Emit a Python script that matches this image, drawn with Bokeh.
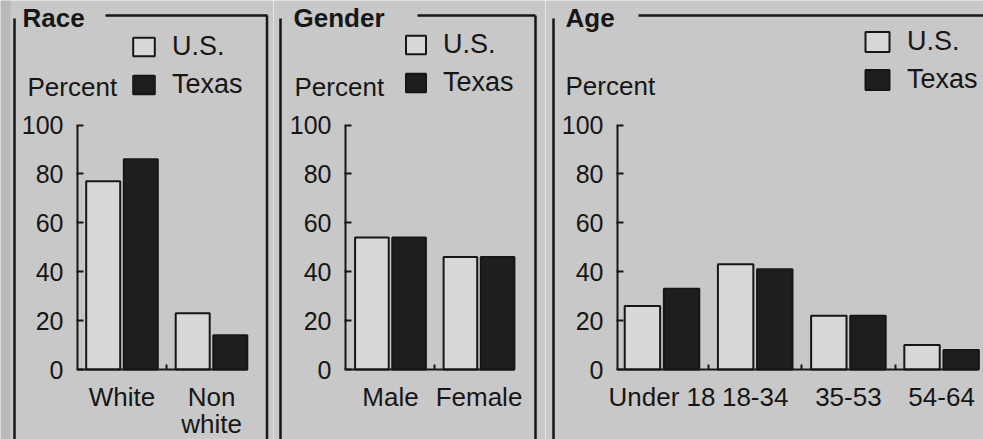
from bokeh.plotting import figure
from bokeh.models import LinearAxis, FixedTicker, Range1d, Legend, LegendItem, Label, BoxAnnotation
from bokeh.layouts import row
from bokeh.embed import file_html
from bokeh.resources import INLINE

# ---------------- data ----------------
panel_titles = ["Race", "Gender", "Age"]
series_names = ["U.S.", "Texas"]
y_label = "Percent"
y_ticks = [0, 20, 40, 60, 80, 100]

race_categories = ["White", "Non\nwhite"]
race_us = [77, 23]
race_texas = [86, 14]

gender_categories = ["Male", "Female"]
gender_us = [54, 46]
gender_texas = [54, 46]

age_categories = ["Under 18", "18-34", "35-53", "54-64"]
age_us = [26, 43, 22, 10]
age_texas = [33, 41, 22, 8]

# ---------------- style ----------------
H = 439
Y0_PX = 369.0      # canvas row of value 0
Y100_PX = 124.5    # canvas row of value 100
BG = "#c8c8c8"
US_FILL = "#d8d8d8"
TX_FILL = "#1e1e1e"
INK = "#161616"
FONT = "Liberation Sans"
OFF = 0.21
BAR_W = 0.38
LABEL_SHIFT = 10   # Label text renders this much lower than requested baseline
LEGEND_SHIFT = 4


def make_panel(title, cats, us, tx, width, c0, unit, axis_px, xend_px,
               title_x, line_x0, line_x1, left_b, right_b,
               leg_x, leg_top, glyph_w, glyph_h, pct_x, pct_base, shade=False):
    ppu = (Y0_PX - Y100_PX) / 100.0

    def px2x(px):
        return (px - c0) / unit

    def py2y(py):
        return (Y0_PX - py) / ppu

    p = figure(width=width, height=H,
               x_range=Range1d(px2x(0), px2x(width)),
               y_range=Range1d(py2y(H), py2y(0)),
               x_axis_type=None, y_axis_type=None,
               toolbar_location=None, output_backend="svg",
               min_border=0, background_fill_color=BG,
               border_fill_color=BG, outline_line_color=None)
    p.grid.visible = False

    if shade:
        p.add_layout(BoxAnnotation(left=px2x(0), right=px2x(10), fill_color="#b9b9b9",
                                   fill_alpha=1, line_color=None, level="underlay"))

    xs = list(range(len(cats)))
    r_us = p.vbar(x=[i - OFF for i in xs], top=us, width=BAR_W, bottom=0,
                  fill_color=US_FILL, line_color=INK, line_width=2)
    r_tx = p.vbar(x=[i + OFF for i in xs], top=tx, width=BAR_W, bottom=0,
                  fill_color=TX_FILL, line_color=INK, line_width=2)

    # axes
    yaxis = LinearAxis(fixed_location=px2x(axis_px), bounds=(0, 100),
                       ticker=FixedTicker(ticks=y_ticks, minor_ticks=[]))
    yaxis.axis_line_width = 2
    yaxis.axis_line_color = INK
    yaxis.major_tick_line_width = 2
    yaxis.major_tick_line_color = INK
    yaxis.major_tick_in = 6
    yaxis.major_tick_out = 1
    yaxis.minor_tick_line_color = None
    yaxis.major_label_standoff = 13
    yaxis.major_label_text_font = FONT
    yaxis.major_label_text_font_size = "25px"
    yaxis.major_label_text_color = INK
    p.add_layout(yaxis, "left")

    xaxis = LinearAxis(fixed_location=0, bounds=(px2x(axis_px), px2x(xend_px)),
                       ticker=FixedTicker(ticks=xs, minor_ticks=[i + 0.5 for i in xs[:-1]]),
                       major_label_overrides={i: c for i, c in zip(xs, cats)})
    xaxis.axis_line_width = 2
    xaxis.axis_line_color = INK
    xaxis.major_tick_line_color = None
    xaxis.minor_tick_line_color = INK
    xaxis.minor_tick_line_width = 2
    xaxis.minor_tick_in = 5
    xaxis.minor_tick_out = 0
    xaxis.major_label_standoff = 6
    xaxis.major_label_text_font = FONT
    xaxis.major_label_text_font_size = "26px"
    xaxis.major_label_text_line_height = 0.93
    xaxis.major_label_text_color = INK
    p.add_layout(xaxis, "below")

    # panel frame lines
    ytop = py2y(15)
    ybot = py2y(H)
    p.segment(x0=[px2x(line_x0)], y0=[ytop], x1=[px2x(line_x1)], y1=[ytop],
              line_color=INK, line_width=2.5)
    p.segment(x0=[px2x(left_b)], y0=[py2y(18)], x1=[px2x(left_b)], y1=[ybot],
              line_color=INK, line_width=2.5)
    if right_b is not None:
        p.segment(x0=[px2x(right_b)], y0=[ytop], x1=[px2x(right_b)], y1=[ybot],
                  line_color=INK, line_width=2.5)

    # title and y label
    p.add_layout(Label(x=px2x(title_x), y=py2y(27 - LABEL_SHIFT), text=title,
                       text_font=FONT, text_font_size="26px", text_font_style="bold",
                       text_color=INK, text_baseline="alphabetic", text_align="left"))
    p.add_layout(Label(x=px2x(pct_x), y=py2y(pct_base - LABEL_SHIFT), text=y_label,
                       text_font=FONT, text_font_size="26px",
                       text_color=INK, text_baseline="alphabetic", text_align="left"))

    # legend
    item_h = 36
    spacing = 2
    leg_h = 2 * item_h + spacing
    legend = Legend(items=[LegendItem(label=series_names[0], renderers=[r_us]),
                           LegendItem(label=series_names[1], renderers=[r_tx])],
                    location=(leg_x, H - (leg_top - LEGEND_SHIFT + leg_h)),
                    orientation="vertical", glyph_width=glyph_w, glyph_height=glyph_h,
                    label_height=item_h,
                    label_text_font=FONT, label_text_font_size="27px",
                    label_text_color=INK, label_standoff=15, spacing=spacing,
                    padding=0, margin=0, background_fill_alpha=0,
                    border_line_color=None)
    p.add_layout(legend)
    return p


p1 = make_panel(panel_titles[0], race_categories, race_us, race_texas,
                273, 121.5, 89.5, 77, 246.8,
                22, 105, 267, 14, 266.5,
                130, 32, 27, 23, 27, 96.5, shade=True)
p2 = make_panel(panel_titles[1], gender_categories, gender_us, gender_texas,
                272, 117, 88.5, 72, 240.9,
                20, 144, 262, 7, 262,
                130, 30, 25, 23, 21, 96.5)
p3 = make_panel(panel_titles[2], age_categories, age_us, age_texas,
                438, 116.5, 93.2, 72, 432,
                20, 93, 438, 8, None,
                317, 27, 30, 25, 20, 95)

layout = row(p1, p2, p3)
open("out.html", "w").write(file_html(layout, INLINE))
